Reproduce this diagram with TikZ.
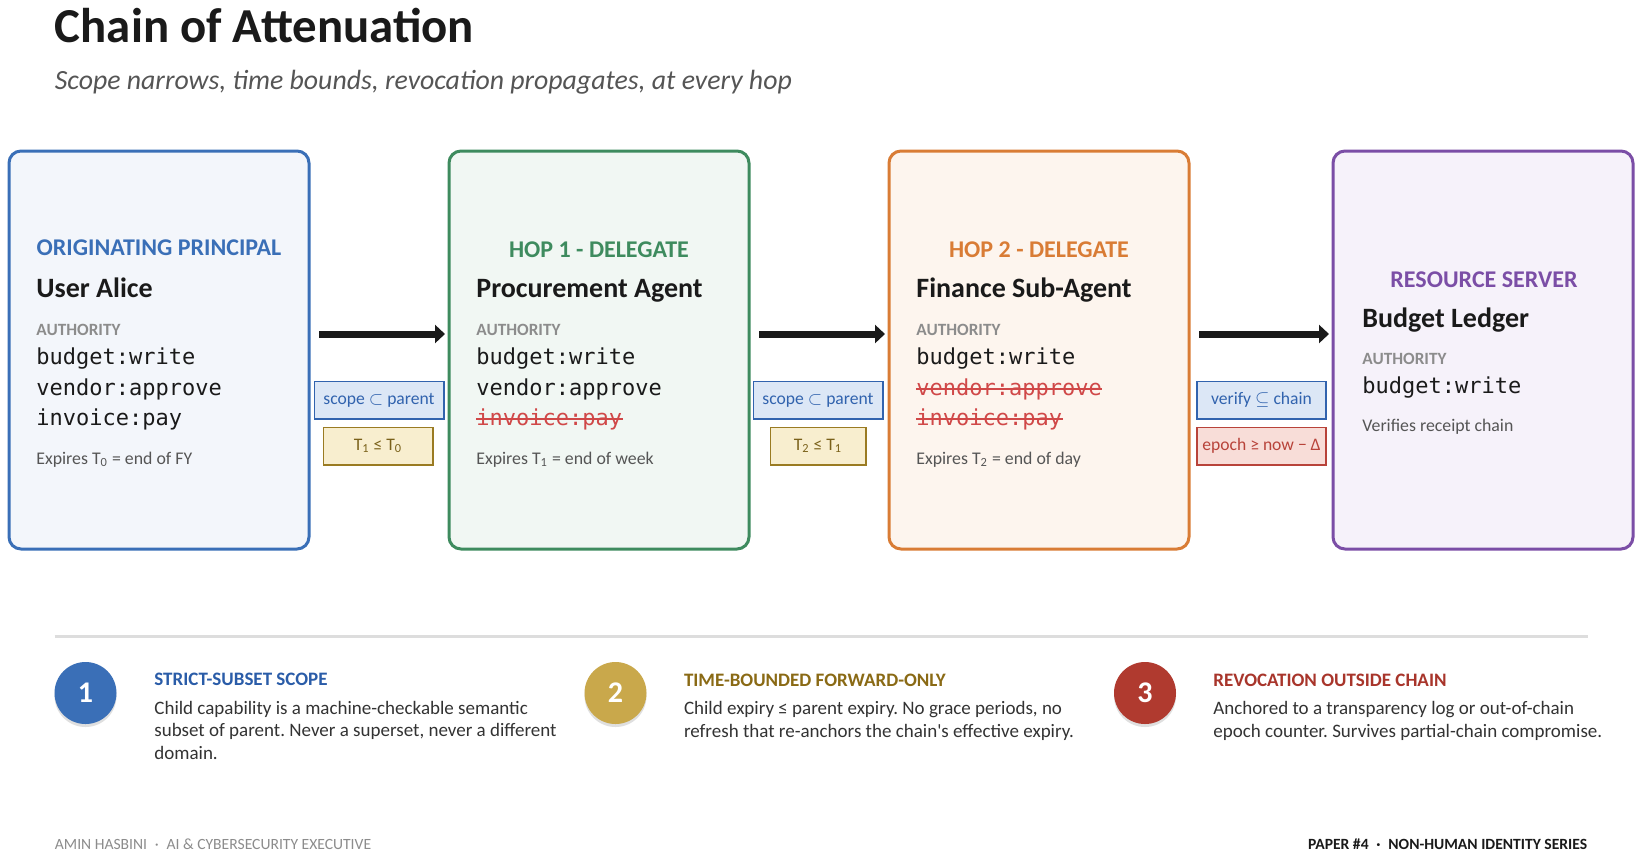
\documentclass[tikz,border=0pt]{standalone}
\usepackage{fontspec}
\setmainfont{Carlito}
\setmonofont{DejaVu Sans Mono}
\usepackage{tikz}
\usetikzlibrary{arrows.meta,positioning,shadows}
\frenchspacing
\definecolor{azul}{HTML}{3A6FB7}
\definecolor{azulfondo}{HTML}{F3F6FB}
\definecolor{azulosc}{HTML}{2A5CA8}
\definecolor{verde}{HTML}{3E8B5E}
\definecolor{verdefondo}{HTML}{F1F7F3}
\definecolor{naranja}{HTML}{D97C35}
\definecolor{naranjafondo}{HTML}{FDF5EE}
\definecolor{morado}{HTML}{7B4EA6}
\definecolor{moradofondo}{HTML}{F6F2FA}
\definecolor{tachon}{HTML}{D04848}
\definecolor{gris}{HTML}{8C8C8C}
\definecolor{gristxt}{HTML}{555555}
\definecolor{tinta}{HTML}{1A1A1A}
\definecolor{cuerpo}{HTML}{333333}
\definecolor{etqazul}{HTML}{DCE7F6}
\definecolor{etqazulb}{HTML}{3163AE}
\definecolor{etqamar}{HTML}{F8EECF}
\definecolor{etqamarb}{HTML}{9A7B22}
\definecolor{etqamart}{HTML}{7A611A}
\definecolor{etqrojo}{HTML}{F8DDD8}
\definecolor{etqrojob}{HTML}{B8433A}
\definecolor{oro}{HTML}{C9A84B}
\definecolor{oroosc}{HTML}{8A6A15}
\definecolor{rojo}{HTML}{B03A2F}
\definecolor{rojoosc}{HTML}{A8352B}
\definecolor{linea}{HTML}{DDDDDD}

\begin{document}
\begin{tikzpicture}[x=0.5pt, y=-0.5pt,
      node distance=70pt,
      caja/.style={rectangle, rounded corners=6pt, line width=1.5pt, outer sep=0pt,
                   minimum width=150pt, minimum height=199pt},
      cab/.style={anchor=base, inner sep=0pt, font=\fontsize{12}{14}\selectfont\bfseries},
      nombre/.style={anchor=base west, inner sep=0pt, text=tinta, font=\fontsize{14}{17}\selectfont\bfseries},
      autor/.style={anchor=base west, inner sep=0pt, text=gris, font=\fontsize{8.6}{10}\selectfont\bfseries},
      permiso/.style={anchor=base west, inner sep=0pt, text=tinta, font=\fontsize{11}{13}\selectfont\ttfamily},
      tachado/.style={permiso, text=tachon},
      raya/.style={draw=tachon, line width=0.9pt},
      expira/.style={anchor=base west, inner sep=0pt, text=gristxt, font=\fontsize{8.9}{11}\selectfont},
      etiq/.style={rectangle, line width=0.8pt, minimum height=18.7pt, inner sep=0pt,
                   font=\fontsize{8.8}{11}\selectfont},
      etiqazul/.style={etiq, draw=etqazulb, fill=etqazul, text=etqazulb, minimum width=64.7pt},
      etiqamar/.style={etiq, draw=etqamarb, fill=etqamar, text=etqamart},
      etiqrojo/.style={etiq, draw=etqrojob, fill=etqrojo, text=etqrojob, minimum width=64.7pt},
      flecha/.style={-{Triangle[length=5pt,width=9pt]}, line width=3.5pt, draw=tinta,
                     shorten <=5pt, shorten >=2pt},
      num/.style={circle, minimum size=31pt, inner sep=0pt, text=white,
                  font=\fontsize{15}{18}\selectfont\bfseries,
                  drop shadow={opacity=0.25, shadow xshift=0pt, shadow yshift=-1.5pt}},
      nota/.style={anchor=base west, inner sep=0pt, align=left, text=cuerpo,
                   font=\fontsize{9.5}{11.3}\selectfont},
      pie/.style={inner sep=0pt, font=\fontsize{7.8}{9}\selectfont}]

    \path[fill=white, use as bounding box] (0,0) rectangle (1644,859);

    % title
    \node[anchor=base west, inner sep=0pt, text=tinta, font=\fontsize{24.4}{29}\selectfont\bfseries]
      (titulo) at (54.5,42) {Chain of Attenuation};
    \node[anchor=base west, inner sep=0pt, text=gristxt, font=\fontsize{13.9}{16}\selectfont\itshape]
      (subtitulo) at (54.5,89) {Scope narrows, time bounds, revocation propagates, at every hop};

    % the four parties
    \node[caja, draw=azul, fill=azulfondo] (alice) at (159,350) {};
    \node[caja, draw=verde, fill=verdefondo, right=of alice] (proc) {};
    \node[caja, draw=naranja, fill=naranjafondo, right=of proc] (fin) {};
    \node[caja, draw=morado, fill=moradofondo, right=72pt of fin] (ledger) {};

    \node[cab, text=azul] (alice-cab) at (159,255) {ORIGINATING PRINCIPAL};
    \node[nombre] (alice-nom) at (36,297) {User Alice};
    \node[autor] (alice-aut) at (36,335) {AUTHORITY};
    \node[permiso] (alice-p1) at (36,364) {budget:write};
    \node[permiso] (alice-p2) at (36,395) {vendor:approve};
    \node[permiso] (alice-p3) at (36,425) {invoice:pay};
    \node[expira] (alice-exp) at (36,464) {Expires T\textsubscript{0} = end of FY};

    \node[cab, text=verde] (proc-cab) at (599,257) {HOP 1 - DELEGATE};
    \node[nombre] (proc-nom) at (476,297) {Procurement Agent};
    \node[autor] (proc-aut) at (476,335) {AUTHORITY};
    \node[permiso] (proc-p1) at (476,364) {budget:write};
    \node[permiso] (proc-p2) at (476,395) {vendor:approve};
    \node[tachado] (proc-p3) at (476,425) {invoice:pay};
    \node[expira] (proc-exp) at (476,464) {Expires T\textsubscript{1} = end of week};

    \node[cab, text=naranja] (fin-cab) at (1039,257) {HOP 2 - DELEGATE};
    \node[nombre] (fin-nom) at (916,297) {Finance Sub-Agent};
    \node[autor] (fin-aut) at (916,335) {AUTHORITY};
    \node[permiso] (fin-p1) at (916,364) {budget:write};
    \node[tachado] (fin-p2) at (916,395) {vendor:approve};
    \node[tachado] (fin-p3) at (916,425) {invoice:pay};
    \node[expira] (fin-exp) at (916,464) {Expires T\textsubscript{2} = end of day};

    % struck-out rights
    \draw[raya] ([yshift=3.2pt]proc-p3.base west) -- ([yshift=3.2pt]proc-p3.base east);
    \draw[raya] ([yshift=3.2pt]fin-p2.base west) -- ([yshift=3.2pt]fin-p2.base east);
    \draw[raya] ([yshift=3.2pt]fin-p3.base west) -- ([yshift=3.2pt]fin-p3.base east);

    \node[cab, text=morado] (ledger-cab) at (1484,287) {RESOURCE SERVER};
    \node[nombre] (ledger-nom) at (1362,327) {Budget Ledger};
    \node[autor] (ledger-aut) at (1362,364) {AUTHORITY};
    \node[permiso] (ledger-p1) at (1362,393) {budget:write};
    \node[expira] (ledger-ver) at (1362,431) {Verifies receipt chain};

    % hops
    \draw[flecha] ([yshift=8pt]alice.east) -- ([yshift=8pt]proc.west);
    \draw[flecha] ([yshift=8pt]proc.east) -- ([yshift=8pt]fin.west);
    \draw[flecha] ([yshift=8pt]fin.east) -- ([yshift=8pt]ledger.west);

    \node[etiqazul] (h1-scope) at (379,400) {scope $\subset$ parent};
    \node[etiqamar, minimum width=54.7pt] (h1-time) at (378,446) {T\textsubscript{1} ≤ T\textsubscript{0}};
    \node[etiqazul] (h2-scope) at (818,400) {scope $\subset$ parent};
    \node[etiqamar, minimum width=47.7pt] (h2-time) at (818,446) {T\textsubscript{2} ≤ T\textsubscript{1}};
    \node[etiqazul] (h3-verify) at (1261.5,400) {verify $\subseteq$ chain};
    \node[etiqrojo] (h3-epoch) at (1261.5,446) {epoch ≥ now − Δ};

    % legend
    \draw[line width=1.5pt, draw=linea] (54.5,636) -- (1587.5,636);

    \node[num, fill=azul] (n1) at (85.5,693) {1};
    \node[num, fill=oro] (n2) at (615.5,693) {2};
    \node[num, fill=rojo] (n3) at (1145,693) {3};

    % base of a multi-line node is its last line
    \node[nota] (nota1) at (154,759.5) {\textcolor{azulosc}{\bfseries STRICT-SUBSET SCOPE}\\[2.9pt]
      Child capability is a machine-checkable semantic\\
      subset of parent. Never a superset, never a different\\
      domain.};
    \node[nota] (nota2) at (683.6,737.5) {\textcolor{oroosc}{\bfseries TIME-BOUNDED FORWARD-ONLY}\\[2.9pt]
      Child expiry ≤ parent expiry. No grace periods, no\\
      refresh that re-anchors the chain\textquotesingle s effective expiry.};
    \node[nota] (nota3) at (1213,737.5) {\textcolor{rojoosc}{\bfseries REVOCATION OUTSIDE CHAIN}\\[2.9pt]
      Anchored to a transparency log or out-of-chain\\
      epoch counter. Survives partial-chain compromise.};

    % footer
    \node[pie, anchor=base west, text=gris] (autoria) at (54.5,849)
      {AMIN HASBINI\enspace·\enspace AI \& CYBERSECURITY EXECUTIVE};
    \node[pie, anchor=base east, text=tinta, font=\fontsize{7.8}{9}\selectfont\bfseries] (serie) at (1587.5,849)
      {PAPER \#4\enspace·\enspace NON-HUMAN IDENTITY SERIES};
  \end{tikzpicture}
\end{document}
